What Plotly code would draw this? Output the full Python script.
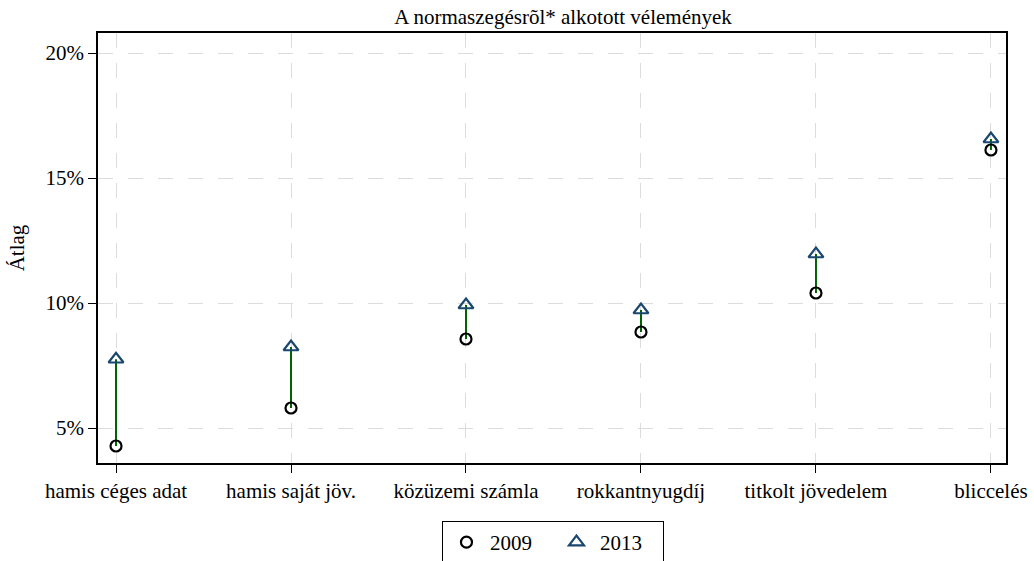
import plotly.graph_objects as go

categories = ["hamis céges adat", "hamis saját jöv.", "közüzemi számla",
              "rokkantnyugdíj", "titkolt jövedelem", "bliccelés"]
v2009 = [4.28, 5.80, 8.56, 8.84, 10.40, 16.12]
v2013 = [7.75, 8.24, 9.92, 9.72, 11.96, 16.56]
ytick_vals = [5, 10, 15, 20]
ytick_text = ["5%", "10%", "15%", "20%"]

idx = list(range(len(categories)))

seg_x, seg_y = [], []
for i, a, b in zip(idx, v2009, v2013):
    seg_x += [i, i, None]
    seg_y += [a, b, None]

font = "Liberation Serif, Times New Roman, serif"

fig = go.Figure()
fig.add_trace(go.Scatter(x=seg_x, y=seg_y, mode="lines",
                         line=dict(color="#006400", width=2),
                         showlegend=False, hoverinfo="skip"))
fig.add_trace(go.Scatter(x=idx, y=v2009, mode="markers", name="2009",
                         marker=dict(symbol="circle-open", size=11, color="black",
                                     line=dict(width=2.2, color="black"))))
fig.add_trace(go.Scatter(x=idx, y=v2013, mode="markers", name="2013",
                         marker=dict(symbol="triangle-up-open", size=13, color="#1a476f",
                                     line=dict(width=2.2, color="#1a476f"))))

fig.update_layout(
    width=1034, height=561,
    margin=dict(l=98, r=28, t=33, b=98),
    paper_bgcolor="white", plot_bgcolor="white",
    font=dict(family=font, size=21, color="black"),
    title=dict(text="A normaszegésrõl* alkotott vélemények", x=0.5445, xanchor="center",
               y=0.9695, yanchor="middle", font=dict(size=21, family=font)),
    showlegend=True,
    legend=dict(orientation="h", xref="container", yref="container",
                x=0.5348, xanchor="center", y=0.0713, yanchor="top",
                bordercolor="black", borderwidth=1, bgcolor="white",
                font=dict(size=21, family=font), itemwidth=37,
                entrywidthmode="pixels", entrywidth=58),
)
fig.update_xaxes(range=[-0.103, 5.086], tickmode="array", tickvals=idx, ticktext=categories,
                 showline=True, linecolor="black", linewidth=1.5, mirror=True,
                 ticks="outside", ticklen=8, tickcolor="black",
                 showgrid=True, gridcolor="#dcdcdc", griddash="longdash", gridwidth=1,
                 zeroline=False, tickfont=dict(size=21), automargin=False)
fig.update_yaxes(range=[3.6, 20.8], tickmode="array", tickvals=ytick_vals, ticktext=ytick_text,
                 showline=True, linecolor="black", linewidth=1.5, mirror=True,
                 ticks="outside", ticklen=8, tickcolor="black",
                 showgrid=True, gridcolor="#dcdcdc", griddash="longdash", gridwidth=1,
                 zeroline=False, tickfont=dict(size=21), automargin=False,
                 title=dict(text="Átlag", font=dict(size=21)))

fig.write_html("out.html", config={"displayModeBar": False},
               post_script="document.body.style.margin='0';")
